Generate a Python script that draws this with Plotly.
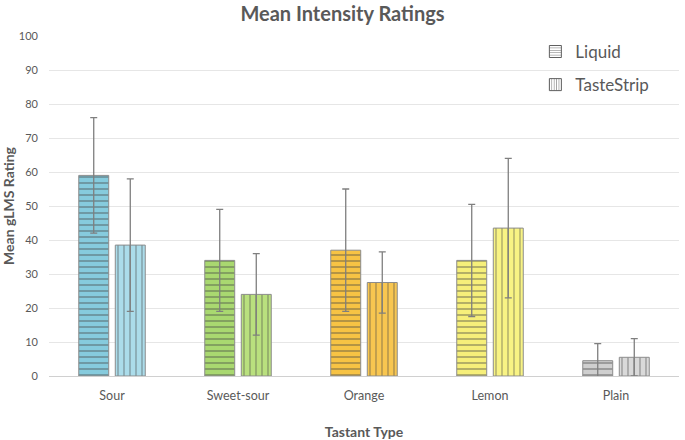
import plotly.graph_objects as go

categories = ["Sour", "Sweet-sour", "Orange", "Lemon", "Plain"]
liquid_mean = [59, 34, 37, 34, 4.5]
liquid_err = [17, 15, 18, 16.5, 5]
strip_mean = [38.5, 24, 27.5, 43.5, 5.5]
strip_err = [19.5, 12, 9, 20.5, 5.5]
y_ticks = [0, 10, 20, 30, 40, 50, 60, 70, 80, 90, 100]

liquid_colors = ["#86cbdd", "#a9d870", "#f7c344", "#f6ef7a", "#cfcfcf"]
strip_colors = ["#abdcea", "#b9e07e", "#f8c650", "#f8f384", "#d9d9d9"]

font = "Lato"
fig = go.Figure()

fig.add_trace(go.Bar(
    x=categories, y=liquid_mean, name="Liquid", showlegend=False, offsetgroup="L",
    marker=dict(color=liquid_colors, line=dict(color="#8c8c8c", width=1),
                pattern=dict(shape="-", fgcolor="#4a4a4a", size=6, solidity=0.25)),
    error_y=dict(type="data", array=liquid_err, color="#7f7f7f", thickness=1.3, width=3.5),
))
fig.add_trace(go.Bar(
    x=categories, y=strip_mean, name="TasteStrip", showlegend=False, offsetgroup="T",
    marker=dict(color=strip_colors, line=dict(color="#8c8c8c", width=1),
                pattern=dict(shape="|", fgcolor="#555555", size=6, solidity=0.2)),
    error_y=dict(type="data", array=strip_err, color="#7f7f7f", thickness=1.3, width=3.5),
))
# legend-only entries
fig.add_trace(go.Bar(
    x=[None], y=[None], name="Liquid", legendgroup="a", offsetgroup="L",
    marker=dict(color="white", line=dict(color="#606060", width=1),
                pattern=dict(shape="-", fgcolor="#404040", size=3, solidity=0.35)),
))
fig.add_trace(go.Bar(
    x=[None], y=[None], name="TasteStrip", legendgroup="b", offsetgroup="T",
    marker=dict(color="white", line=dict(color="#606060", width=1),
                pattern=dict(shape="|", fgcolor="#404040", size=3, solidity=0.35)),
))

fig.update_layout(
    width=685, height=440,
    margin=dict(l=49, r=6, t=36, b=64),
    paper_bgcolor="white", plot_bgcolor="white",
    font=dict(family=font, color="#595959", size=12),
    title=dict(text="<b>Mean Intensity Ratings</b>", x=0.5, xanchor="center",
               y=0.984, yanchor="top", yref="container",
               font=dict(size=20, color="#595959", family=font)),
    barmode="group", bargap=0.42, bargroupgap=0.18,
    legend=dict(x=0.772, y=1.006, xanchor="left", yanchor="top",
                font=dict(size=17, color="#595959", family=font),
                bgcolor="rgba(255,255,255,0)", tracegroupgap=8,
                traceorder="grouped"),
    xaxis=dict(title=dict(text="<b>Tastant Type</b>", standoff=27,
                          font=dict(size=14, color="#595959")),
               automargin=False,
               showline=True, linecolor="#d0d0d0", linewidth=1,
               ticklabelstandoff=8,
               tickfont=dict(size=12.5, color="#595959"), ticks=""),
    yaxis=dict(title=dict(text="<b>Mean gLMS Rating</b>", standoff=2,
                          font=dict(size=14, color="#595959")),
               automargin=False,
               range=[0, 100], tickvals=y_ticks, showgrid=True,
               gridcolor="#e6e6e6", gridwidth=1, zeroline=False,
               ticklabelstandoff=10,
               tickfont=dict(size=11, color="#595959"), ticks=""),
)

fig.write_html("out.html", config={"displayModeBar": False},
               post_script="document.body.style.margin='0px';")
